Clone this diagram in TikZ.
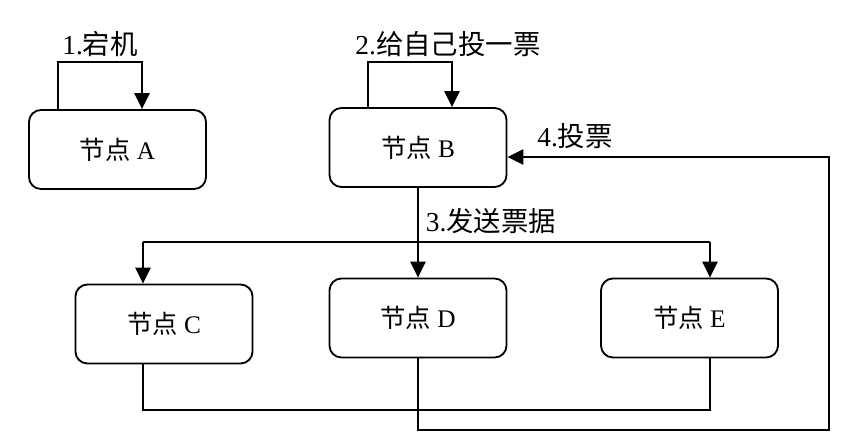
\documentclass[tikz,border=0pt]{standalone}
\usepackage{fontspec}
\setmainfont{Liberation Serif}
\newfontfamily\cjk{Noto Sans CJK SC}
\usetikzlibrary{arrows.meta,positioning}
\tikzset{
  >={Triangle[length=0.4cm,width=0.38cm]},
}

\begin{document}
\begin{tikzpicture}[
  x=0.025cm,y=-0.025cm,
  every node/.style={font=\fontsize{18}{21}\selectfont},
  box/.style={draw,line width=1.3pt,rounded corners=0.3cm,minimum width=4.425cm,minimum height=1.975cm,inner sep=0pt},
  ln/.style={line width=1.3pt},
  lab/.style={inner sep=1pt,font=\fontsize{19.5}{22}\selectfont}
]
\useasboundingbox (0,0) rectangle (857,442);

\node[box] (A) at (117.5,149.5) {{\cjk 节点} A};
\node[box] (B) at (418,147.5) {{\cjk 节点} B};

\node[box] (C) at (164,324) {{\cjk 节点} C};
\node[box] (D) at (418,318) {{\cjk 节点} D};
\node[box] (E) at (689.5,318) {{\cjk 节点} E};

% self loops
\coordinate (aL) at (58,62);
\coordinate (aR) at (142,62);
\coordinate (bL) at (368,62);
\coordinate (bR) at (452,62);
\draw[ln,->] (A.north -| aL) -- (aL) -- (aR) -- (A.north -| aR);
\draw[ln,->] (B.north -| bL) -- (bL) -- (bR) -- (B.north -| bR);

% send ballots
\coordinate (sL) at (143,242);
\coordinate (sR) at (710,242);
\draw[ln,->] (B.south) -- (D.north);
\draw[ln] (sL) -- (sR);
\draw[ln,->] (sL) -- (sL |- C.north);
\draw[ln,->] (sR) -- (sR |- E.north);

% votes back
\coordinate (vL) at (143,410);
\coordinate (vR) at (710,410);
\draw[ln] (C.south -| vL) -- (vL) -- (vR) -- (E.south -| vR);
\coordinate (dB) at (418,430);
\coordinate (rB) at (829,430);
\coordinate (rT) at (829,157);
\draw[ln,->] (D.south) -- (dB) -- (rB) -- (rT) -- (B.east |- rT);

\node[lab] (l1) at (100,44) {1.{\cjk 宕机}};
\node[lab] (l2) at (448,44) {2.{\cjk 给自己投一票}};
\node[lab] (l3) at (491,221) {3.{\cjk 发送票据}};
\node[lab] (l4) at (575,136) {4.{\cjk 投票}};

\end{tikzpicture}
\end{document}
